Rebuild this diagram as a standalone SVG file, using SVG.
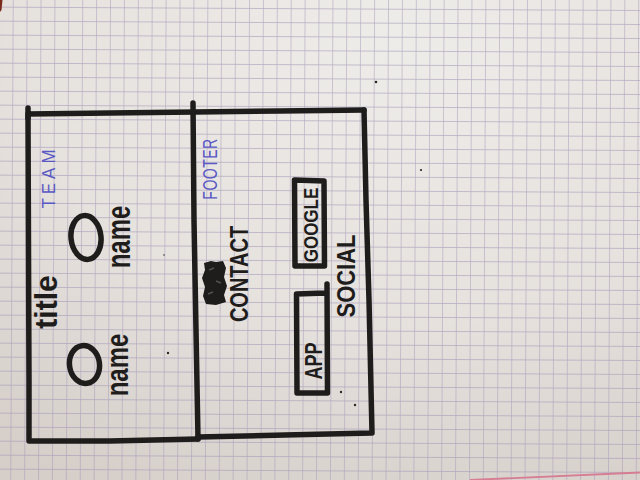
<svg xmlns="http://www.w3.org/2000/svg" width="640" height="480" viewBox="0 0 640 480">
  <defs>
    <radialGradient id="paper" cx="0.62" cy="0.08" r="1.05">
      <stop offset="0" stop-color="#eeece9"/>
      <stop offset="0.55" stop-color="#e6e2de"/>
      <stop offset="1" stop-color="#d5cec9"/>
    </radialGradient>
    <!-- squared paper, about 14 px cells, very slightly tilted -->
    <pattern id="grid" width="13.9" height="14" patternUnits="userSpaceOnUse"
             patternTransform="translate(12.7,6.7) rotate(0.3)">
      <path d="M0,0 H13.9 M0,0 V14" fill="none" stroke="#a297b6" stroke-width="1.3" stroke-opacity="0.75"/>
    </pattern>
    <style>
      .ink { fill: none; stroke: #1f1d1b; stroke-width: 5.5; stroke-linecap: round; stroke-linejoin: round; }
      .bold { font-family: "Liberation Sans", "DejaVu Sans", sans-serif; font-weight: 700; fill: #1f1d1b; text-anchor: middle; }
      .pen { font-family: "Liberation Sans", "DejaVu Sans", sans-serif; font-weight: 400; fill: #5a58c4; text-anchor: middle; }
      .dot { fill: #2a2725; }
    </style>
  </defs>

  <!-- sheet -->
  <rect width="640" height="480" fill="url(#paper)"/>
  <rect width="640" height="480" fill="url(#grid)"/>
  <path d="M470,480 L640,472.5" stroke="#d67c93" stroke-width="1.8" fill="none"/>
  <path d="M0,0 H2.5 L1.5,10 L0,12 Z" fill="#7a2c1e"/>

  <!-- stray pen dots -->
  <circle class="dot" cx="376" cy="82" r="1.3"/>
  <circle class="dot" cx="421" cy="170" r="1.1"/>
  <circle class="dot" cx="164" cy="255" r="0.9" opacity="0.6"/>
  <circle class="dot" cx="168" cy="353" r="1.2"/>
  <circle class="dot" cx="341" cy="392" r="1.2"/>
  <circle class="dot" cx="355" cy="405" r="1.2"/>

  <!-- outer frame and divider -->
  <g id="frame">
    <path class="ink" d="M28,108 L28,118 M28,114 L110,113 L195,112 L280,111 L364,110"/>
    <path class="ink" d="M28,114 L28.5,250 L29,380 L29,441 L110,441 L198,439"/>
    <path class="ink" d="M198,437 L285,435 L372,433 L369,300 L366,200 L364,110"/>
    <path class="ink" d="M193,103 L194,220 L196,330 L198,439"/>
  </g>

  <!-- left panel: team -->
  <g id="team">
    <text class="pen" font-size="17" letter-spacing="4" transform="translate(55,177) rotate(-90) scale(1,1.1)">TEAM</text>
    <text class="bold" font-size="30" transform="translate(57,302) rotate(-90) scale(1,1.05)">title</text>
    <ellipse class="ink" cx="86" cy="237.5" rx="15" ry="22" transform="rotate(-6 86 237.5)"/>
    <text class="bold" font-size="24" transform="translate(130,237) rotate(-90) scale(1,1.35)">name</text>
    <ellipse class="ink" cx="84.5" cy="364.5" rx="15" ry="19" transform="rotate(-8 84.5 364.5)"/>
    <text class="bold" font-size="24" transform="translate(128,365) rotate(-90) scale(1,1.3)">name</text>
  </g>

  <!-- right panel: footer -->
  <g id="footer">
    <text class="pen" font-size="14" letter-spacing="0.5" transform="translate(217,169) rotate(-90) scale(1,1.4)">FOOTER</text>
    <!-- crossed-out word -->
    <path d="M204,263 L211,261 L216,262 L223,261 L226,268 L224,277 L227,286 L224,295 L226,302 L216,305 L206,304 L203,296 L205,287 L202,278 L205,270 Z" fill="#1f1d1b"/>
    <path d="M209,270 L214,268 M216,281 L221,283 M208,294 L213,292" stroke="#55504c" stroke-width="1.4" fill="none"/>
    <text class="bold" font-size="20" transform="translate(248,274) rotate(-90) scale(1,1.25)">CONTACT</text>
  </g>

  <g id="google">
    <path class="ink" d="M294.5,180 L324,181 L324.5,266 L295,266 Z"/>
    <text class="bold" font-size="17" transform="translate(318,225) rotate(-90) scale(1,1.2)">GOOGLE</text>
  </g>

  <g id="app">
    <path class="ink" d="M327,284 L327.5,393 L297,393 L296.5,294 L325,293"/>
    <text class="bold" font-size="18" transform="translate(322,361) rotate(-90) scale(1,1.3)">APP</text>
  </g>

  <g id="social">
    <text class="bold" font-size="22" transform="translate(355,276) rotate(-90) scale(1,1.15)">SOCIAL</text>
  </g>
</svg>
